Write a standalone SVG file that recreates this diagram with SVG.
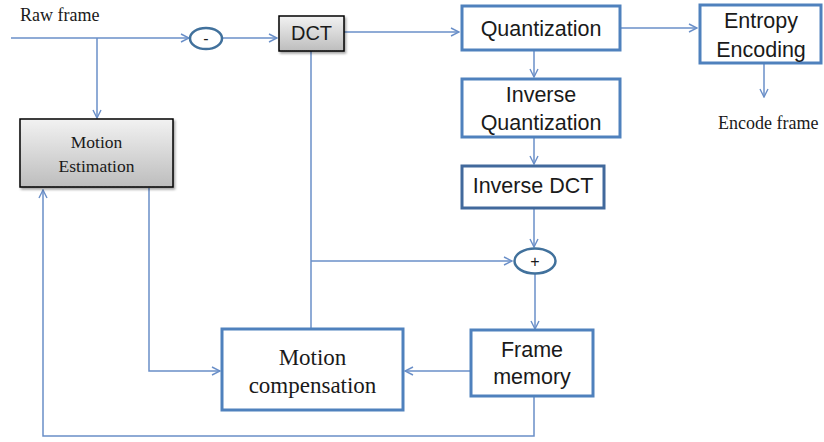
<svg xmlns="http://www.w3.org/2000/svg" width="824" height="442" viewBox="0 0 824 442">
<defs>
<linearGradient id="gray" x1="0" y1="0" x2="0" y2="1">
<stop offset="0" stop-color="#f2f2f2"/>
<stop offset="1" stop-color="#bdbdbd"/>
</linearGradient>
<filter id="sh" x="-10%" y="-10%" width="130%" height="140%">
<feDropShadow dx="1.5" dy="2" stdDeviation="1.2" flood-color="#000" flood-opacity="0.35"/>
</filter>
<marker id="ar" viewBox="0 0 10 10" refX="9" refY="5" markerWidth="10" markerHeight="10" markerUnits="userSpaceOnUse" orient="auto">
<path d="M1,1 L9,5 L1,9" fill="none" stroke="#6a8fc8" stroke-width="1.4"/>
</marker>
<style>
.ln{fill:none;stroke:#6a8fc8;stroke-width:1.5}
.bx{fill:#fff;stroke:#4f81bd;stroke-width:3}
.gb{fill:url(#gray);stroke:#000;stroke-width:1.5;filter:url(#sh)}
.el{fill:#fff;stroke:#41719c;stroke-width:2.5}
.sans{font-family:"Liberation Sans",Arial,sans-serif;fill:#1a1a1a;text-anchor:middle}
.serif{font-family:"Liberation Serif","Times New Roman",serif;fill:#1a1a1a}
</style>
</defs>
<rect width="824" height="442" fill="#fff"/>
<g id="connectors">
<path class="ln" d="M11,38 H189" marker-end="url(#ar)"/>
<path class="ln" d="M97,38 V118" marker-end="url(#ar)"/>
<path class="ln" d="M222,38 H277" marker-end="url(#ar)"/>
<path class="ln" d="M344,32 H459" marker-end="url(#ar)"/>
<path class="ln" d="M621,28 H697" marker-end="url(#ar)"/>
<path class="ln" d="M534,51 V77" marker-end="url(#ar)"/>
<path class="ln" d="M534,137 V164" marker-end="url(#ar)"/>
<path class="ln" d="M764,64 V97" marker-end="url(#ar)"/>
<path class="ln" d="M534,208 V247" marker-end="url(#ar)"/>
<path class="ln" d="M311,51 V328"/>
<path class="ln" d="M311,261 H512" marker-end="url(#ar)"/>
<path class="ln" d="M535,274 V329" marker-end="url(#ar)"/>
<path class="ln" d="M470,371 H405" marker-end="url(#ar)"/>
<path class="ln" d="M534,397 V436 H43 V190" marker-end="url(#ar)"/>
<path class="ln" d="M149,188 V371 H220" marker-end="url(#ar)"/>
</g>
<g id="raw-frame"><text class="serif" x="20" y="21" font-size="18">Raw frame</text></g>
<g id="subtract">
<ellipse class="el" cx="206" cy="38.5" rx="16" ry="10.5"/>
<text class="sans" x="206" y="44" font-size="16">-</text>
</g>
<g id="dct">
<rect class="gb" x="279" y="16" width="65" height="35"/>
<text class="sans" x="311.5" y="40" font-size="20">DCT</text>
</g>
<g id="quantization">
<rect class="bx" x="462" y="6" width="158" height="44"/>
<text class="sans" x="541" y="36" font-size="21.5">Quantization</text>
</g>
<g id="entropy-encoding">
<rect class="bx" x="700" y="5" width="121" height="58"/>
<text class="sans" x="761" y="28" font-size="21.5">Entropy</text>
<text class="sans" x="761" y="57" font-size="21.5">Encoding</text>
</g>
<g id="encode-frame"><text class="serif" x="718" y="129" font-size="18">Encode frame</text></g>
<g id="inverse-quantization">
<rect class="bx" x="462" y="79" width="158" height="58"/>
<text class="sans" x="541" y="102" font-size="21.5">Inverse</text>
<text class="sans" x="541" y="130" font-size="21.5">Quantization</text>
</g>
<g id="inverse-dct">
<rect x="462" y="166" width="142" height="42" fill="#fff" stroke="#41699c" stroke-width="3"/>
<text class="sans" x="533" y="193" font-size="21.5">Inverse DCT</text>
</g>
<g id="add">
<ellipse class="el" cx="535" cy="261" rx="20.5" ry="12.5"/>
<text class="sans" x="535" y="267" font-size="16">+</text>
</g>
<g id="motion-estimation">
<rect class="gb" x="20" y="119" width="153" height="68"/>
<text class="serif" x="96.5" y="148" font-size="17.5" text-anchor="middle">Motion</text>
<text class="serif" x="96.5" y="172" font-size="17.5" text-anchor="middle">Estimation</text>
</g>
<g id="motion-compensation">
<rect class="bx" x="222" y="329" width="181" height="81"/>
<text class="serif" x="312.5" y="365" font-size="23" text-anchor="middle">Motion</text>
<text class="serif" x="312.5" y="393" font-size="23" text-anchor="middle">compensation</text>
</g>
<g id="frame-memory">
<rect class="bx" x="471" y="330" width="122" height="66"/>
<text class="sans" x="532" y="357" font-size="21.5">Frame</text>
<text class="sans" x="532" y="384" font-size="21.5">memory</text>
</g>
</svg>
